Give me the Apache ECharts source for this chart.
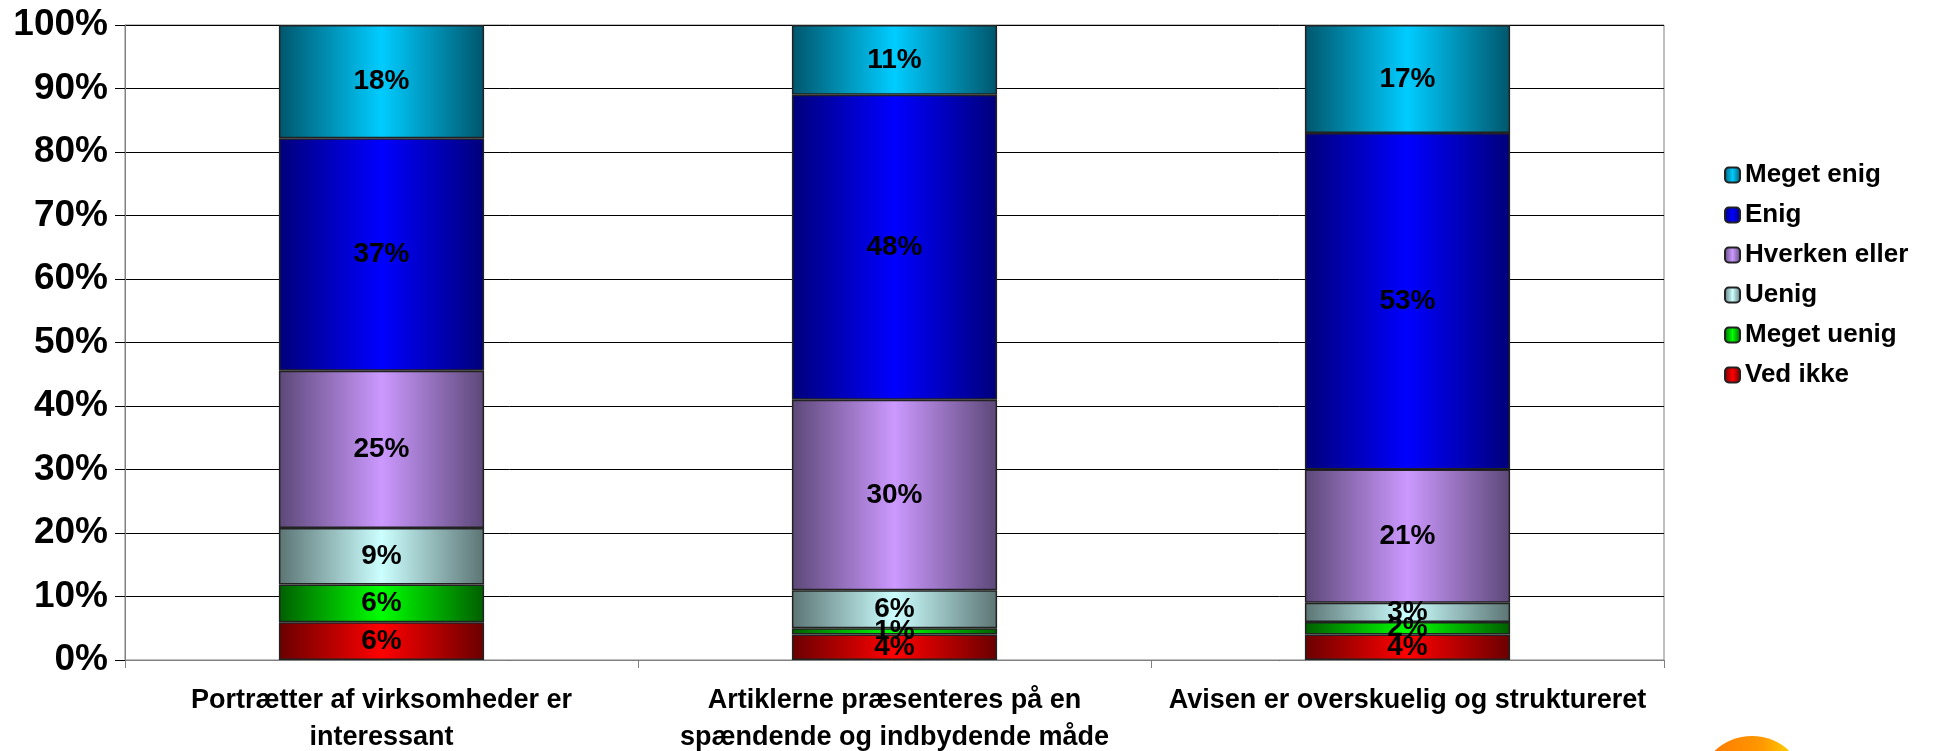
<!DOCTYPE html>
<html>
<head>
<meta charset="utf-8">
<script src="https://cdn.jsdelivr.net/npm/echarts@6/dist/echarts.min.js"></script>
<style>
  html, body { margin: 0; padding: 0; background: #fff; }
  #mychart { width: 1936px; height: 751px; }
</style>
</head>
<body>
<div id="mychart"></div>
<script>
// kategorier (x-akse)
const categories = [
  'Portrætter af virksomheder er\ninteressant',
  'Artiklerne præsenteres på en\nspændende og indbydende måde',
  'Avisen er overskuelig og struktureret'
];

// svar i procent, nederst -> øverst
const vedIkke = [6, 4, 4];
const megetUenig = [6, 1, 2];
const uenig = [9, 6, 3];
const hverkenEller = [25, 30, 21];
const enig = [37, 48, 53];
const megetEnig = [18, 11, 17];

const seriesNames = ['Ved ikke', 'Meget uenig', 'Uenig', 'Hverken eller', 'Enig', 'Meget enig'];
const rawData = [vedIkke, megetUenig, uenig, hverkenEller, enig, megetEnig];

// farver: [kant, midte]
const colors = [
  ['#6a0000', '#ff0000'],
  ['#005f00', '#00ff00'],
  ['#5c7474', '#ccffff'],
  ['#5c4878', '#cc99ff'],
  ['#00007a', '#0000ff'],
  ['#00566c', '#00ccff']
];

// 100% stablet: normaliser hver søjle
const totals = categories.map((c, i) => rawData.reduce((s, arr) => s + arr[i], 0));

const font = "'Liberation Sans', Arial, sans-serif";

const series = seriesNames.map((name, si) => ({
  name: name,
  type: 'bar',
  stack: 'Total',
  barWidth: '40%',
  data: rawData[si].map((v, i) => v / totals[i] * 100),
  itemStyle: {
    color: {
      type: 'linear', x: 0, y: 0, x2: 1, y2: 0,
      colorStops: [
        { offset: 0, color: colors[si][0] },
        { offset: 0.5, color: colors[si][1] },
        { offset: 1, color: colors[si][0] }
      ]
    },
    borderColor: '#222',
    borderWidth: 1.5
  },
  label: {
    show: true,
    position: 'inside',
    color: '#000',
    fontFamily: font,
    fontWeight: 'bold',
    fontSize: 28,
    textBorderWidth: 0,
    formatter: p => rawData[si][p.dataIndex] + '%'
  }
}));

const option = {
  animation: false,
  backgroundColor: '#fff',
  grid: {
    left: 125, top: 25, right: 272, bottom: 91,
    outerBoundsMode: 'none',
    containLabel: false,
    show: true, borderColor: '#808080', borderWidth: 1
  },
  legend: {
    orient: 'vertical',
    left: 1719,
    top: 157,
    itemWidth: 15,
    itemHeight: 15,
    itemGap: 14,
    data: seriesNames.slice().reverse(),
    textStyle: {
      fontFamily: font, fontWeight: 'bold', fontSize: 26, color: '#000',
      padding: [0, 0, 0, 0]
    }
  },
  xAxis: {
    type: 'category',
    data: categories,
    axisLine: { lineStyle: { color: '#808080', width: 1 } },
    axisTick: { show: true, length: 8, lineStyle: { color: '#808080' } },
    axisLabel: {
      interval: 0,
      margin: 22,
      color: '#000',
      fontFamily: font,
      fontWeight: 'bold',
      fontSize: 27,
      lineHeight: 37
    }
  },
  yAxis: {
    type: 'value',
    min: 0,
    max: 100,
    interval: 10,
    axisLine: { show: true, lineStyle: { color: '#808080' } },
    axisTick: { show: true, length: 10, lineStyle: { color: '#000' } },
    splitLine: { lineStyle: { color: '#000', width: 1 } },
    axisLabel: {
      formatter: '{value}%',
      margin: 17,
      color: '#000',
      fontFamily: font,
      fontWeight: 'bold',
      fontSize: 37
    }
  },
  graphic: [{
    type: 'circle',
    shape: { cx: 1752, cy: 790, r: 54 },
    style: {
      fill: {
        type: 'linear', x: 0, y: 0, x2: 1, y2: 0,
        colorStops: [
          { offset: 0, color: '#ff2200' },
          { offset: 0.2, color: '#ff8000' },
          { offset: 0.6, color: '#ff9900' },
          { offset: 0.85, color: '#ffcc00' },
          { offset: 1, color: '#ffff66' }
        ]
      }
    }
  }],
  series: series
};

const myChart = echarts.init(document.getElementById('mychart'));
myChart.setOption(option);
window.addEventListener('resize', () => {
  myChart.resize();
});
</script>
</body>
</html>
